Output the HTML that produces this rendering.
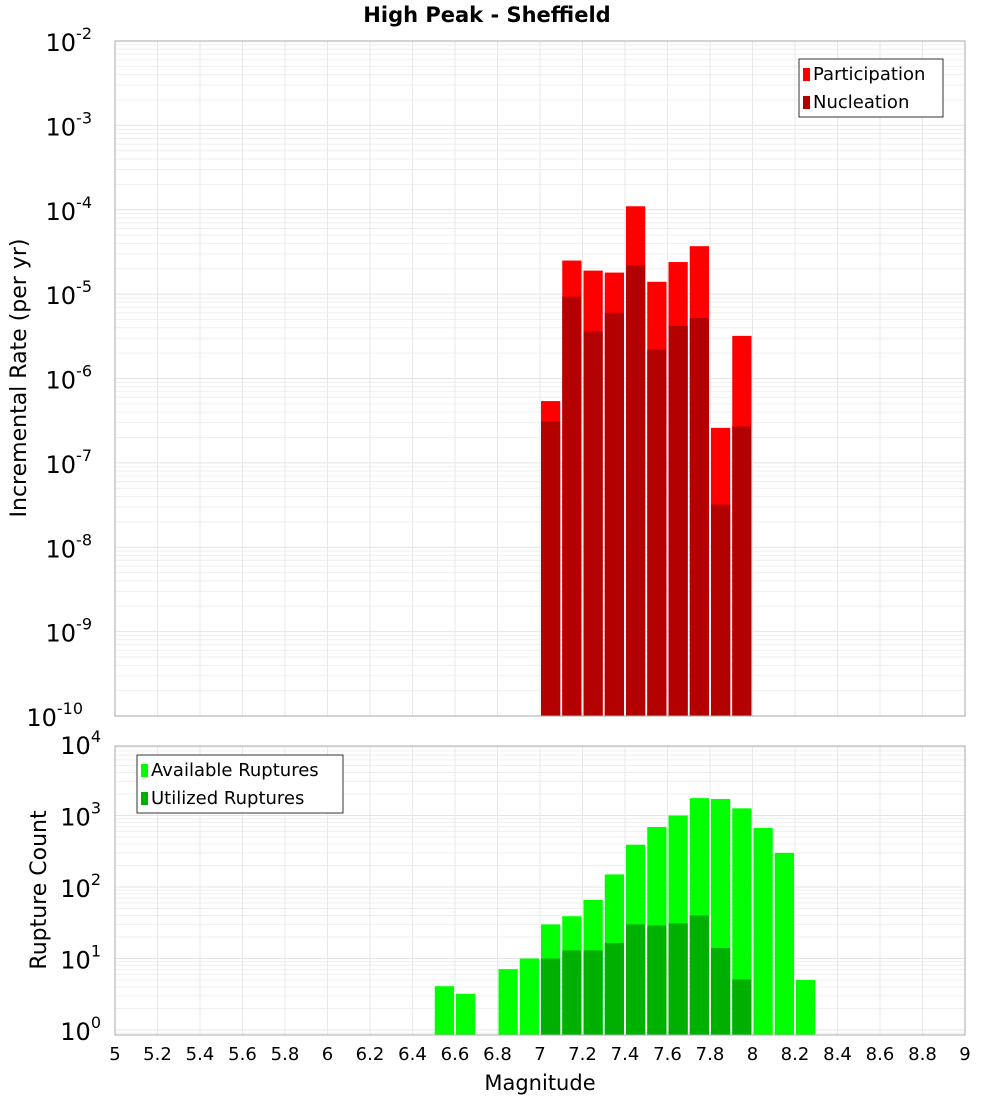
<!DOCTYPE html>
<html><head><meta charset="utf-8"><style>
body{margin:0;background:#fff;}
svg text{font-family:"DejaVu Sans","Liberation Sans",sans-serif;}
</style></head><body>
<svg id="c" width="1000" height="1100" xmlns="http://www.w3.org/2000/svg"></svg>
<script>
const binCenters=[7.05,7.15,7.25,7.35,7.45,7.55,7.65,7.75,7.85,7.95];
const participation=[5.4e-7,2.5e-5,1.9e-5,1.8e-5,1.1e-4,1.4e-5,2.4e-5,3.7e-5,2.6e-7,3.2e-6];
const nucleation=[3.1e-7,9.3e-6,3.6e-6,6e-6,2.2e-5,2.2e-6,4.2e-6,5.2e-6,3.2e-8,2.7e-7];
const countCenters=[6.55,6.65,6.85,6.95,7.05,7.15,7.25,7.35,7.45,7.55,7.65,7.75,7.85,7.95,8.05,8.15,8.25];
const available=[4.1,3.2,7.1,10,30,39,66,150,390,690,1000,1750,1700,1260,670,300,5];
const utilCenters=[7.05,7.15,7.25,7.35,7.45,7.55,7.65,7.75,7.85,7.95];
const utilized=[10,13,13,16.5,30,29,31,40,14,5.1];
const xTicks=[5,5.2,5.4,5.6,5.8,6,6.2,6.4,6.6,6.8,7,7.2,7.4,7.6,7.8,8,8.2,8.4,8.6,8.8,9];
const topExps=[-2,-3,-4,-5,-6,-7,-8,-9,-10];
const botExps=[4,3,2,1,0];

const NS="http://www.w3.org/2000/svg";
const svg=document.getElementById('c');
function el(t,a,p){const e=document.createElementNS(NS,t);for(const k in a)e.setAttribute(k,a[k]);(p||svg).appendChild(e);return e;}
const L=115,R=965;
const xs=m=>L+(m-5)/4*(R-L);
const T1=41,B1=716;
const y1=v=>T1+(-2-Math.log10(v))*(B1-T1)/8;
const y2=v=>1030-71.5*Math.log10(v);
const B2=1035,T2=746;

function grid(top,bot,yf,lo,hi,name){
  const g=el('g',{});
  
  for(let e=lo;e<hi;e++)for(let k=1;k<10;k++){const y=yf(k*Math.pow(10,e));if(y>=top-0.5&&y<=bot)el('line',{x1:L,x2:R,y1:y,y2:y,stroke:k==1?'#e4e4e4':'#efefef','stroke-width':1},g);}
  for(let i=0;i<=20;i++){const x=xs(5+i*0.2);el('line',{x1:x,x2:x,y1:top,y2:bot,stroke:'#e8e8e8'},g);}
}
grid(T1,B1,y1,-10,-2,'top-grid');
grid(T2,B2,y2,-1,4,'bottom-grid');

function bar(c,v,yf,bot,fill,name){
  const x=xs(c-0.05)+1,w=xs(c+0.05)-xs(c-0.05)-2,y=yf(v);
  const r=el('rect',{x:x,y:y,width:w,height:bot-y,fill:fill});
  
}
binCenters.forEach((c,i)=>bar(c,participation[i],y1,B1,'#ff0000','participation-bar'));
binCenters.forEach((c,i)=>bar(c,nucleation[i],y1,B1,'#b30000','nucleation-bar'));
countCenters.forEach((c,i)=>bar(c,available[i],y2,B2,'#00ff00','available-bar'));
utilCenters.forEach((c,i)=>bar(c,utilized[i],y2,B2,'#00b000','utilized-bar'));

el('rect',{x:L,y:T1,width:R-L,height:B1-T1,fill:'none',stroke:'#aaa'});
el('rect',{x:L,y:T2,width:R-L,height:B2-T2,fill:'none',stroke:'#aaa'});

function ylab(exp,yf,v,name){
  const y=yf(v);
  const t=el('text',{x:110,y:y+10,'text-anchor':'end','font-size':24,fill:'#000'});
  
  t.textContent='10';
  const s=el('tspan',{dy:-12,'font-size':16},t);s.textContent=String(exp);
  t.setAttribute('x',110-String(exp).length*9);
}
topExps.forEach(e=>ylab(e,y1,Math.pow(10,e),'top-y-tick-label'));
botExps.forEach(e=>ylab(e,y2,Math.pow(10,e),'bottom-y-tick-label'));

xTicks.forEach(m=>{const t=el('text',{x:xs(m),y:1060,'text-anchor':'middle','font-size':18});t.textContent=String(m);});

let t=el('text',{x:487,y:22,'text-anchor':'middle','font-size':21,'font-weight':'bold'});t.textContent='High Peak - Sheffield';
t=el('text',{x:540,y:1090,'text-anchor':'middle','font-size':21});t.textContent='Magnitude';
t=el('text',{x:0,y:0,'text-anchor':'middle','font-size':22,transform:'translate(26,378) rotate(-90)'});t.textContent='Incremental Rate (per yr)';
t=el('text',{x:0,y:0,'text-anchor':'middle','font-size':22,transform:'translate(46,890) rotate(-90)'});t.textContent='Rupture Count';

function legend(x,y,w,items,name){
  const g=el('g',{});
  el('rect',{x:x,y:y,width:w,height:58,fill:'#fff',stroke:'#333'},g);
  items.forEach((it,i)=>{
    el('rect',{x:x+4,y:y+9+i*28,width:7,height:13,fill:it[1]},g);
    const tt=el('text',{x:x+14,y:y+21+i*28,'font-size':18},g);tt.textContent=it[0];
  });
}
legend(799,59,144,[['Participation','#ff0000'],['Nucleation','#b30000']],'top-legend');
legend(137,755,206,[['Available Ruptures','#00ff00'],['Utilized Ruptures','#00b000']],'bottom-legend');
</script>
</body></html>
